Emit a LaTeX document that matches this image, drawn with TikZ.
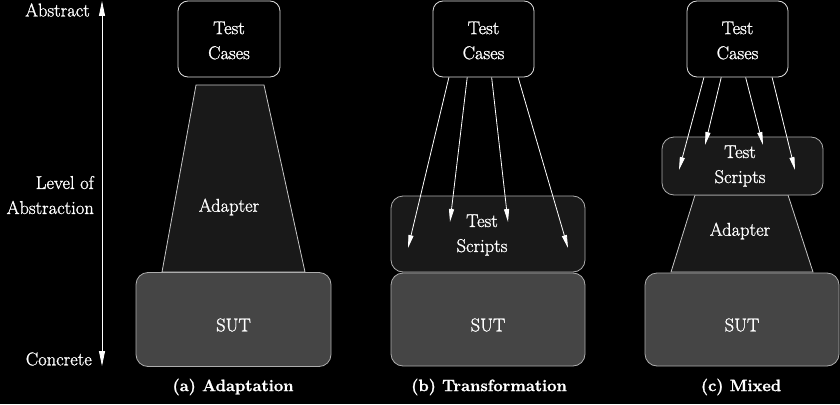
\documentclass[tikz,border=0pt]{standalone}
\usepackage{fontspec}
\setmainfont{Latin Modern Roman}[UprightFeatures={FakeBold=1.2},BoldFeatures={FakeBold=1.2}]
\usetikzlibrary{arrows.meta,calc}
\begin{document}
\begin{tikzpicture}[x=1pt,y=-1pt,
  lbl/.style={text=white, font=\fontsize{18.5}{25}\selectfont, align=center, inner sep=0pt},
  captext/.style={text=white, font=\fontsize{16.5}{25}\selectfont\bfseries, inner sep=0pt},
  tcbox/.style={draw=white!87!black, fill=black, rounded corners=10pt, line width=0.8pt, inner sep=0pt},
  scbox/.style={draw=white!68!black, fill=black!90, rounded corners=12pt, line width=0.8pt, inner sep=0pt},
  sutbox/.style={draw=white!68!black, fill=black!73, rounded corners=12pt, line width=0.8pt, inner sep=0pt},
  adapt/.style={draw=white!78!black, fill=black!90, line width=0.8pt},
  flow/.style={draw=white, line width=0.8pt, -{Triangle[width=5pt,length=13pt,fill=white]}},
  axis/.style={draw=white, line width=0.8pt, {Triangle[width=6pt,length=15pt,fill=white]}-{Triangle[width=6pt,length=15pt,fill=white]}}
]
\fill[black] (0,0) rectangle (840,404);
\useasboundingbox (0,0) rectangle (840,404);

% axis
\coordinate (axt) at (102,1);
\coordinate (axb) at (102,366);
\draw[axis] (axt) -- (axb);
\node[lbl, anchor=east] (abs) at (90,10) {Abstract};
\node[lbl, anchor=east] (con) at (92,359) {Concrete};
\node[lbl, anchor=east, align=right] (lvl) at (94,195) {Level of\\Abstraction};

% (a) Adaptation
\draw[adapt] (196,85) -- (264,85) -- (305,272) -- (162,272) -- cycle;
\node[lbl] (ada) at (229,207) {Adapter};
\node[tcbox, minimum width=102pt, minimum height=76pt] (tca) at (229,39) {};
\node[lbl] (tcat) at (229,40.5) {Test\\Cases};
\node[sutbox, minimum width=195pt, minimum height=94pt] (sa) at (233.5,319.5) {};
\node[lbl] (sat) at (233.5,325) {SUT};
\node[captext] (capa) at (233,387) {(a) Adaptation};

% (b) Transformation
\node[tcbox, minimum width=101pt, minimum height=76pt] (tcb) at (483.5,39) {};
\node[lbl] (tcbt) at (483.5,40.5) {Test\\Cases};
\node[scbox, minimum width=194pt, minimum height=76pt] (scb) at (488,234) {};
\node[lbl] (scbt) at (482,235) {Test\\Scripts};
\node[sutbox, minimum width=194pt, minimum height=93pt] (sb) at (488,319.5) {};
\node[lbl] (sbt) at (488,325) {SUT};
\node[captext] (capb) at (489,387) {(b) Transformation};
\coordinate (b1) at (408,248);
\coordinate (b2) at (450,222);
\coordinate (b3) at (508,222);
\coordinate (b4) at (568,248);
\draw[flow] ($(tcb.south west)!0.16!(tcb.south east)$) -- (b1);
\draw[flow] ($(tcb.south west)!0.34!(tcb.south east)$) -- (b2);
\draw[flow] ($(tcb.south west)!0.58!(tcb.south east)$) -- (b3);
\draw[flow] ($(tcb.south west)!0.84!(tcb.south east)$) -- (b4);

% (c) Mixed
\draw[adapt] (695,195) -- (788,195) -- (813,272) -- (671,272) -- cycle;
\node[lbl] (adc) at (740,231) {Adapter};
\node[tcbox, minimum width=101pt, minimum height=76pt] (tcc) at (737.5,39) {};
\node[lbl] (tcct) at (737.5,40.5) {Test\\Cases};
\node[scbox, minimum width=161pt, minimum height=58pt] (scc) at (742.5,166) {};
\node[lbl] (scct) at (740,166) {Test\\Scripts};
\node[sutbox, minimum width=194pt, minimum height=93pt] (sc) at (742,319.5) {};
\node[lbl] (sct) at (742,325) {SUT};
\node[captext] (capc) at (741,387) {(c) Mixed};
\coordinate (c1) at (679,170);
\coordinate (c2) at (705,145);
\coordinate (c3) at (763,145);
\coordinate (c4) at (795,170);
\draw[flow] ($(tcc.south west)!0.17!(tcc.south east)$) -- (c1);
\draw[flow] ($(tcc.south west)!0.34!(tcc.south east)$) -- (c2);
\draw[flow] ($(tcc.south west)!0.58!(tcc.south east)$) -- (c3);
\draw[flow] ($(tcc.south west)!0.84!(tcc.south east)$) -- (c4);
\end{tikzpicture}
\end{document}
